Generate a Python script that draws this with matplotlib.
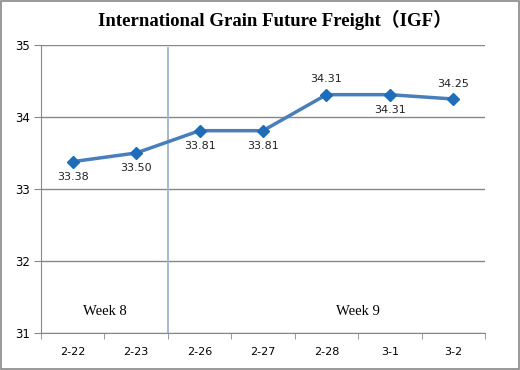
import matplotlib.pyplot as plt
from matplotlib.patches import Rectangle

dates = ['2-22', '2-23', '2-26', '2-27', '2-28', '3-1', '3-2']
igf = [33.38, 33.50, 33.81, 33.81, 34.31, 34.31, 34.25]
label_pos = ['below', 'below', 'below', 'below', 'above', 'below', 'above']
yticks = [31, 32, 33, 34, 35]

fig = plt.figure(figsize=(5.2, 3.7), dpi=100)
ax = fig.add_axes([41 / 520, 37 / 370, 444 / 520, 288 / 370])

x = list(range(len(dates)))
ax.plot(x, igf, color='#4A7EBB', lw=2.5, marker='D', ms=6,
        mfc='#1F6CB8', mec='#1F6CB8', zorder=3)

for xi, v, pos in zip(x, igf, label_pos):
    dy = 11 if pos == 'above' else -11
    ax.annotate(f'{v:.2f}', (xi, v), xytext=(0, dy), textcoords='offset points',
                ha='center', va='center', fontsize=8, color='#222222')

ax.set_xlim(-0.5, len(dates) - 0.5)
ax.set_ylim(31, 35)
ax.set_yticks(yticks)
ax.set_xticks(x)
ax.set_xticklabels(dates, fontsize=8)
ax.set_xticks([i + 0.5 for i in range(-1, len(dates))], minor=True)
ax.tick_params(axis='x', which='major', length=0, pad=10)
ax.tick_params(axis='x', which='minor', length=4, color='#888888', direction='out')
ax.tick_params(axis='y', length=5, color='#888888', labelsize=8.5, pad=3)
ax.grid(axis='y', color='#888888', lw=1)
ax.set_axisbelow(True)
for s in ['top', 'right']:
    ax.spines[s].set_visible(False)
for s in ['left', 'bottom']:
    ax.spines[s].set_color('#888888')

ax.plot([1.5, 1.5], [34.96, 31], color='#9DB3CE', lw=1.3, zorder=2)

ax.text(0.5, 31.3, 'Week 8', ha='center', va='center', fontsize=10.5,
        family='Liberation Serif')
ax.text(4.5, 31.3, 'Week 9', ha='center', va='center', fontsize=10.5,
        family='Liberation Serif')

fig.text(275 / 520, 1 - 20 / 370, 'International Grain Future Freight（IGF）',
         ha='center', va='center', fontsize=13.5, fontweight='bold',
         family=['Liberation Serif', 'Noto Sans CJK SC'])

fig.patches.append(Rectangle((0.002, 0.003), 0.996, 0.994, transform=fig.transFigure,
                             fill=False, ec='#888888', lw=1.2))

fig.savefig('out.png', dpi=100)
